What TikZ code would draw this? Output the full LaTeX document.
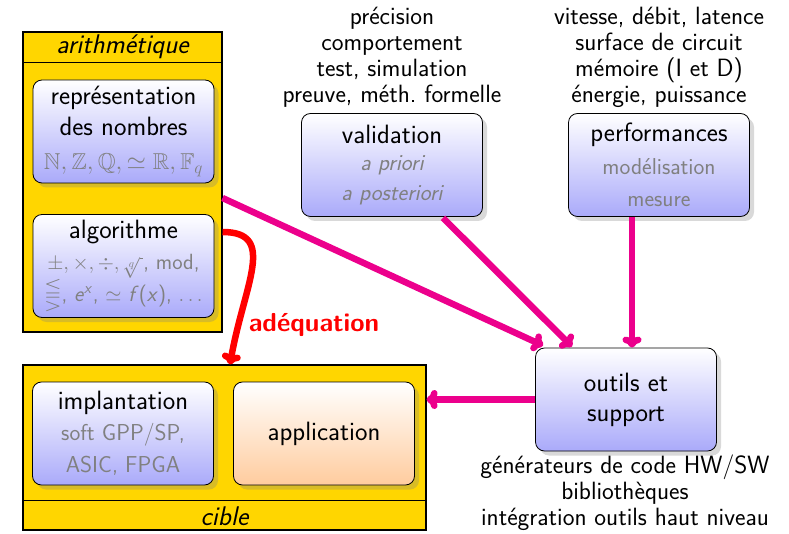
\documentclass[tikz,border=0pt]{standalone}
\usepackage{amsmath,amssymb}
\usetikzlibrary{shadows,arrows.meta}

\definecolor{gold}{RGB}{255,214,0}
\definecolor{flowpink}{RGB}{236,0,140}
\definecolor{lav}{RGB}{170,170,250}
\definecolor{peach}{RGB}{255,204,158}
\definecolor{graytxt}{RGB}{128,128,128}

\newcommand\gr[1]{{\color{graytxt}\fontsize{23}{30}\selectfont #1}}
\newcommand\grs[1]{{\color{graytxt}\fontsize{22}{30}\selectfont #1}}
\newcommand\si[1]{\textsf{\textit{#1}}}

\tikzset{
  blk/.style={draw=black, line width=0.8pt, rounded corners=9pt,
    top color=white, bottom color=lav,
    minimum width=181pt, minimum height=103pt, inner sep=0pt,
    align=center, font=\sffamily\fontsize{26.5}{30}\selectfont,
    drop shadow={opacity=0.3, shadow xshift=4.5pt, shadow yshift=-4.5pt}},
  appblk/.style={blk, bottom color=peach},
  cont/.style={draw=black, line width=1.1pt, fill=gold, inner sep=0pt},
  hdr/.style={font=\sffamily\itshape\fontsize{27}{30}\selectfont},
  note/.style={align=center, font=\sffamily\fontsize{25}{26}\selectfont},
  tip/.style={-{To[length=11pt,width=19pt,round]}},
  flow/.style={draw=flowpink, line width=6.5pt, tip},
  fit/.style={draw=red, line width=6.5pt, tip},
}

\begin{document}
\begin{tikzpicture}[x=1pt, y=-1pt]
\useasboundingbox (0,0) rectangle (789,534);

% arithmetic container
\node[cont, minimum width=199pt, minimum height=300pt] (arith) at (122.5,182) {};
\draw[line width=1.1pt] ([yshift=-31pt]arith.north west) -- ([yshift=-31pt]arith.north east);
\node[hdr] (arithlbl) at (122.5,47) {arithmétique};

% target container
\node[cont, minimum width=403pt, minimum height=165pt] (cible) at (224.5,447.5) {};
\draw[line width=1.1pt] ([yshift=30pt]cible.south west) -- ([yshift=30pt]cible.south east);
\node[hdr] (ciblelbl) at (224.5,516) {cible};

% blocks
\node[blk] (repr) at (123.5,131.5) {représentation\\[1pt] des nombres\\[4pt]
  \gr{$\mathbb{N},\mathbb{Z},\mathbb{Q},\simeq\mathbb{R},\mathbb{F}_q$}};
\node[blk] (algo) at (123.5,266) {algorithme\\[1pt]
  \grs{$\pm,\times,\div,\sqrt[q]{\,}$, mod,}\\
  \grs{$\lesseqqgtr$, \si{e}$^{\si{x}}$, $\simeq$ \si{f}(\si{x}), $\ldots$}};
\node[blk] (impl) at (123,433.5) {implantation\\[1pt] \gr{soft GPP/SP,}\\[2pt] \gr{ASIC, FPGA}};
\node[appblk] (app) at (324,433.5) {application};
\node[blk] (valid) at (392,165) {validation\\[-3pt] \gr{\itshape a priori}\\ \gr{\itshape a posteriori}};
\node[blk] (perf) at (659,165) {performances\\[3pt] \gr{modélisation}\\[2pt] \gr{mesure}};
\node[blk] (outils) at (626,399.5) {outils et\\ support};

% annotations
\node[note] (vnote) at (392,57) {précision\\ comportement\\ test, simulation\\ preuve, méth.\ formelle};
\node[note] (pnote) at (659,57) {vitesse, débit, latence\\ surface de circuit\\ mémoire (I et D)\\ énergie, puissance};
\node[note] (onote) at (625,493) {générateurs de code HW/SW\\ bibliothèques\\ intégration outils haut niveau};

% connectors
\draw[flow] ([yshift=-16pt]arith.east) -- ([xshift=8pt,yshift=2pt]outils.north west);
\draw[flow] ([xshift=51pt,yshift=-1pt]valid.south) -- ([xshift=-54pt,yshift=1pt]outils.north);
\draw[flow] ([xshift=-27pt]perf.south) -- ([xshift=6pt]outils.north);
\draw[flow] (outils.west) -- (outils.west -| cible.east);
\draw[fit] ([yshift=-50pt]arith.east) .. controls +(55,0) and +(14,-80) .. ([xshift=5.5pt]cible.north);
\node[font=\sffamily\bfseries\fontsize{26}{30}\selectfont, text=red] (adeq) at (314,325) {adéquation};
\end{tikzpicture}
\end{document}
